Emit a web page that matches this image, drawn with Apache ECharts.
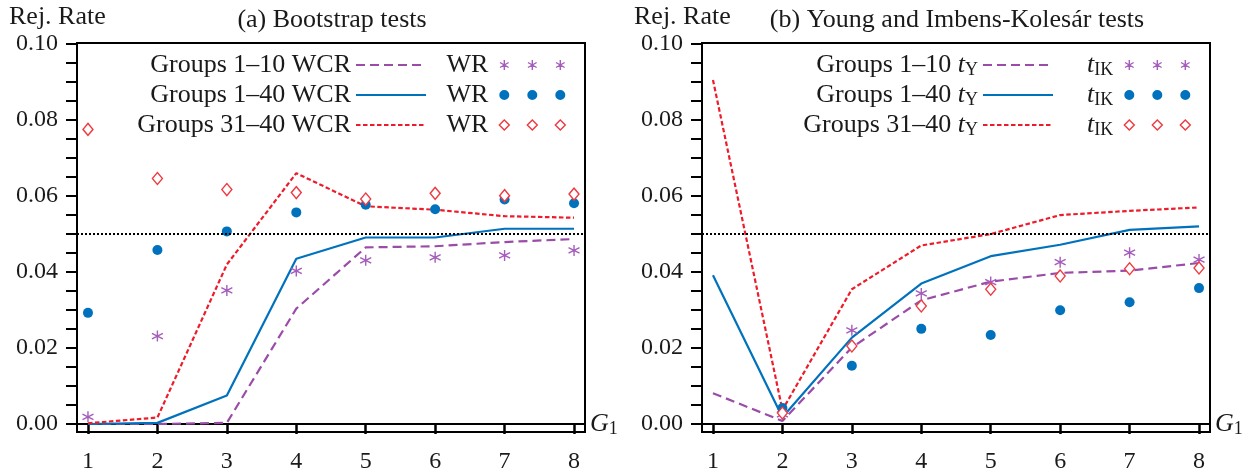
<!DOCTYPE html>
<html><head><meta charset="utf-8">
<script src="https://cdn.jsdelivr.net/npm/echarts@6/dist/echarts.min.js"></script>
<style>html,body{margin:0;padding:0;background:#fff}#c{width:1251px;height:475px}</style>
</head><body><div id="c"></div>
<script>
// ---------- data ----------
const g1Values = [1, 2, 3, 4, 5, 6, 7, 8];
const yTickLabels = [0, 0.02, 0.04, 0.06, 0.08, 0.10];
const yTickMarks = [0, 0.005, 0.01, 0.015, 0.02, 0.025, 0.03, 0.035, 0.04, 0.045, 0.05,
  0.055, 0.06, 0.065, 0.07, 0.075, 0.08, 0.085, 0.09, 0.095, 0.10];
const nominalLevel = 0.05;

// (a) Bootstrap tests
const aWcr1to10  = [0.0000, 0.0000, 0.0003, 0.0303, 0.0464, 0.0467, 0.0478, 0.0486];
const aWcr1to40  = [0.0000, 0.0003, 0.0075, 0.0434, 0.0490, 0.0490, 0.0513, 0.0513];
const aWcr31to40 = [0.0002, 0.0017, 0.0419, 0.0659, 0.0572, 0.0563, 0.0546, 0.0542];
const aWr1to10   = [0.0019, 0.0231, 0.0351, 0.0402, 0.0430, 0.0438, 0.0443, 0.0456];
const aWr1to40   = [0.0292, 0.0457, 0.0506, 0.0556, 0.0576, 0.0564, 0.0590, 0.0580];
const aWr31to40  = [0.0774, 0.0645, 0.0616, 0.0608, 0.0591, 0.0606, 0.0600, 0.0604];

// (b) Young and Imbens-Kolesár tests
const bTy1to10   = [0.0081, 0.0008, 0.0201, 0.0325, 0.0374, 0.0397, 0.0403, 0.0423];
const bTy1to40   = [0.0391, 0.0018, 0.0227, 0.0369, 0.0441, 0.0471, 0.0510, 0.0519];
const bTy31to40  = [0.0904, 0.0037, 0.0354, 0.0469, 0.0499, 0.0549, 0.0560, 0.0569];
const bTik1to10  = [null, 0.0025, 0.0246, 0.0343, 0.0373, 0.0425, 0.0450, 0.0432];
const bTik1to40  = [null, 0.0042, 0.0153, 0.0250, 0.0234, 0.0299, 0.0320, 0.0357];
const bTik31to40 = [null, 0.0029, 0.0205, 0.0310, 0.0354, 0.0389, 0.0408, 0.0410];

// ---------- styles ----------
const FONT = '"Liberation Serif", "Times New Roman", serif';
const TXT = '#1a1a1a';
const PURPLE_L = '#9a4ca8', PURPLE_M = '#a55cbc';
const BLUE = '#0072bd';
const RED_L = '#ee1c2a', RED_M = '#ee3a40';

const ASTER = 'M5,0 L5,10 M0.67,2.5 L9.33,7.5 M0.67,7.5 L9.33,2.5';
function tri(fn) { return 'path://' + [0, 28, 56].map(fn).join(' '); }
const ICON_ASTER = tri(o => `M${5+o},0 L${5+o},10 M${0.67+o},2.5 L${9.33+o},7.5 M${0.67+o},7.5 L${9.33+o},2.5`);
const ICON_DOT = tri(o => `M${o},5 A5,5 0 1,1 ${10+o},5 A5,5 0 1,1 ${o},5 Z`);
const ICON_DIAM = tri(o => `M${5+o},0 L${10+o},5 L${5+o},10 L${o},5 Z`);

const STY = {
  aster: { color: 'transparent', borderColor: PURPLE_M, borderWidth: 1.4, opacity: 1 },
  dot: { color: BLUE, borderColor: BLUE, borderWidth: 0, opacity: 1 },
  diam: { color: '#fff', borderColor: RED_M, borderWidth: 1.4, opacity: 1 }
};

function pairs(vals) {
  return g1Values.map((x, i) => vals[i] == null ? null : [x, vals[i]]).filter(d => d);
}
function lineS(name, vals, gi, color, type, extra) {
  return Object.assign({
    type: 'line', name, xAxisIndex: gi, yAxisIndex: gi, data: pairs(vals),
    symbol: 'none', z: 2, animation: false,
    lineStyle: { color, width: 2.2, type }, itemStyle: { color }
  }, extra || {});
}
function scatS(name, vals, gi, kind) {
  const sym = { aster: 'path://' + ASTER, dot: 'circle', diam: 'diamond' }[kind];
  const size = { aster: 11, dot: 10, diam: [10, 12] }[kind];
  return {
    type: 'scatter', name, xAxisIndex: gi, yAxisIndex: gi, data: pairs(vals),
    symbol: sym, symbolSize: size, z: 3, animation: false, itemStyle: STY[kind]
  };
}
const refLine = {
  markLine: {
    silent: true, symbol: 'none', animation: false, label: { show: false },
    lineStyle: { color: '#000', type: [2, 2], width: 2, opacity: 1 },
    data: [{ yAxis: nominalLevel }]
  }
};

const rich = {
  n: { fontFamily: FONT, fontSize: 26, color: TXT, lineHeight: 28 },
  i: { fontFamily: FONT, fontSize: 26, color: TXT, fontStyle: 'italic', lineHeight: 28 },
  s: { fontFamily: FONT, fontSize: 18, color: TXT, lineHeight: 14, verticalAlign: 'bottom' }
};

function lineLegend(name, right, top, label) {
  return {
    orient: 'horizontal', right, top, padding: 0, align: 'right', selectedMode: false,
    data: [name], itemWidth: 70, itemHeight: 10,
    itemStyle: { opacity: 0 },
    formatter: () => label,
    textStyle: { fontFamily: FONT, fontSize: 26, color: TXT, lineHeight: 28, rich }
  };
}
function markLegend(names, right, top, label) {
  const icons = [ICON_ASTER, ICON_DOT, ICON_DIAM], kinds = ['aster', 'dot', 'diam'];
  return {
    orient: 'vertical', right, top, padding: 0, align: 'right', selectedMode: false,
    itemGap: 2, itemWidth: 66, itemHeight: 10,
    data: names.map((n, k) => ({ name: n, icon: icons[k], itemStyle: STY[kinds[k]] })),
    formatter: () => label,
    textStyle: { fontFamily: FONT, fontSize: 26, color: TXT, lineHeight: 28, rich, padding: [0, 6, 0, 0] }
  };
}

function xAxisCfg(gi) {
  return {
    type: 'value', gridIndex: gi, min: 0.842, max: 8.158,
    name: '{i|G}{s|1}', nameLocation: 'end', nameGap: 5,
    nameTextStyle: { rich, fontFamily: FONT, fontSize: 26, color: TXT },
    axisLine: { show: true, lineStyle: { color: '#000', width: 2 } },
    axisTick: { show: true, customValues: g1Values, length: 10, lineStyle: { color: '#000', width: 2.5 } },
    axisLabel: { customValues: g1Values, fontFamily: FONT, fontSize: 24, color: TXT, margin: 18,
      formatter: v => String(Math.round(v)) },
    splitLine: { show: false }
  };
}
function yAxisCfg(gi) {
  return {
    type: 'value', gridIndex: gi, min: -0.0021, max: 0.1001,
    axisLine: { show: true, lineStyle: { color: '#000', width: 2 } },
    axisTick: { show: true, customValues: yTickMarks, length: 11, lineStyle: { color: '#000', width: 2 } },
    axisLabel: { customValues: yTickLabels, fontFamily: FONT, fontSize: 24, color: TXT, margin: 19,
      formatter: v => v.toFixed(2) },
    splitLine: { show: false }
  };
}

const names = {
  a: ['Groups 1–10 WCR', 'Groups 1–40 WCR', 'Groups 31–40 WCR', 'WR (1–10)', 'WR (1–40)', 'WR (31–40)'],
  b: ['Groups 1–10 tY', 'Groups 1–40 tY', 'Groups 31–40 tY', 'tIK (1–10)', 'tIK (1–40)', 'tIK (31–40)']
};

const option = {
  backgroundColor: '#fff',
  animation: false,
  grid: [
    { left: 77, top: 43, width: 508, height: 389, show: true, borderColor: '#000', borderWidth: 2, backgroundColor: 'transparent' },
    { left: 702, top: 43, width: 508, height: 389, show: true, borderColor: '#000', borderWidth: 2, backgroundColor: 'transparent' }
  ],
  xAxis: [xAxisCfg(0), xAxisCfg(1)],
  yAxis: [yAxisCfg(0), yAxisCfg(1)],
  legend: [
    lineLegend(names.a[0], 824, 51, 'Groups 1–10 WCR'),
    lineLegend(names.a[1], 824, 81, 'Groups 1–40 WCR'),
    lineLegend(names.a[2], 824, 111, 'Groups 31–40 WCR'),
    markLegend(names.a.slice(3), 685, 51, 'WR'),
    lineLegend(names.b[0], 197, 51, '{n|Groups 1–10 }{i|t}{s|Y}'),
    lineLegend(names.b[1], 197, 81, '{n|Groups 1–40 }{i|t}{s|Y}'),
    lineLegend(names.b[2], 197, 111, '{n|Groups 31–40 }{i|t}{s|Y}'),
    markLegend(names.b.slice(3), 60, 51, '{i|t}{s|IK}')
  ],
  graphic: [
    { type: 'text', x: 9, y: 17, style: { text: 'Rej. Rate', font: '26px ' + FONT, fill: TXT, verticalAlign: 'middle' } },
    { type: 'text', x: 332, y: 20, style: { text: '(a) Bootstrap tests', font: '26px ' + FONT, fill: TXT, align: 'center', verticalAlign: 'middle' } },
    { type: 'text', x: 634, y: 17, style: { text: 'Rej. Rate', font: '26px ' + FONT, fill: TXT, verticalAlign: 'middle' } },
    { type: 'text', x: 957, y: 20, style: { text: '(b) Young and Imbens-Kolesár tests', font: '26px ' + FONT, fill: TXT, align: 'center', verticalAlign: 'middle' } }
  ],
  series: [
    lineS(names.a[0], aWcr1to10, 0, PURPLE_L, [9, 5], refLine),
    lineS(names.a[1], aWcr1to40, 0, BLUE, 'solid'),
    lineS(names.a[2], aWcr31to40, 0, RED_L, [4.5, 2.5]),
    scatS(names.a[3], aWr1to10, 0, 'aster'),
    scatS(names.a[4], aWr1to40, 0, 'dot'),
    scatS(names.a[5], aWr31to40, 0, 'diam'),
    lineS(names.b[0], bTy1to10, 1, PURPLE_L, [9, 5], refLine),
    lineS(names.b[1], bTy1to40, 1, BLUE, 'solid'),
    lineS(names.b[2], bTy31to40, 1, RED_L, [4.5, 2.5]),
    scatS(names.b[3], bTik1to10, 1, 'aster'),
    scatS(names.b[4], bTik1to40, 1, 'dot'),
    scatS(names.b[5], bTik31to40, 1, 'diam')
  ]
};
const chart = echarts.init(document.getElementById('c'), null, { renderer: 'canvas' });
chart.setOption(option);
</script>
</body></html>
